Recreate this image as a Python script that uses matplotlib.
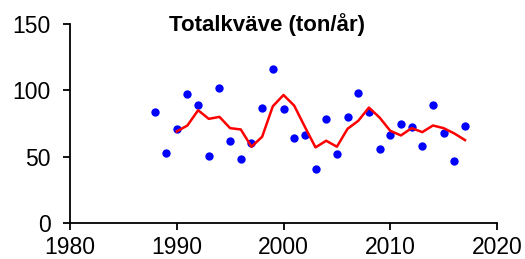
import numpy as np
import matplotlib.pyplot as plt

plt.rcParams['font.family'] = ['Liberation Sans', 'DejaVu Sans']

# yearly values (ton/år)
years = [1988, 1989, 1990, 1991, 1992, 1993, 1994, 1995, 1996, 1997, 1998, 1999,
         2000, 2001, 2002, 2003, 2004, 2005, 2006, 2007, 2008, 2009, 2010, 2011,
         2012, 2013, 2014, 2015, 2016, 2017]
values = [84, 52.5, 70.5, 97, 89, 50.5, 102, 61.5, 48, 60.5, 87, 116,
          86, 64, 66.5, 40.5, 78.5, 52, 80, 98, 83.5, 56, 66.5, 75,
          72.5, 58, 89, 67.5, 46.5, 73]

# moving average
ma_years = list(range(1990, 2018))
ma_values = [69, 73.5, 85, 78.5, 80, 71.5, 70.5, 57.5, 65, 88, 96.5, 88.5,
             72.5, 57, 62, 57.5, 71, 77, 87, 79.5, 69.5, 66, 71.5, 68.5,
             73.5, 71.5, 67.5, 62.5]

fig = plt.figure(figsize=(5.25, 2.59), dpi=100)
ax = fig.add_axes([70 / 525, 1 - 223 / 259, 427 / 525, 199 / 259])

ax.plot(years, values, 'o', color='#0000ff', markersize=6, markeredgewidth=0, clip_on=False)
ax.plot(ma_years, ma_values, '-', color='#ff0000', linewidth=1.8)

ax.set_xlim(1980, 2020)
ax.set_ylim(0, 150)
ax.set_xticks([1980, 1990, 2000, 2010, 2020])
ax.set_yticks([0, 50, 100, 150])
for s in ['top', 'right']:
    ax.spines[s].set_visible(False)
for s in ['left', 'bottom']:
    ax.spines[s].set_linewidth(1.3)
ax.tick_params(axis='both', labelsize=16.5, width=1.3, length=5, direction='out')
ax.tick_params(axis='y', pad=9)
ax.tick_params(axis='x', pad=4.5)

fig.text(267 / 525, 1 - 25 / 259, 'Totalkväve (ton/år)', ha='center', va='center',
         fontsize=16, fontweight='bold')

fig.savefig('out.png', dpi=100)
